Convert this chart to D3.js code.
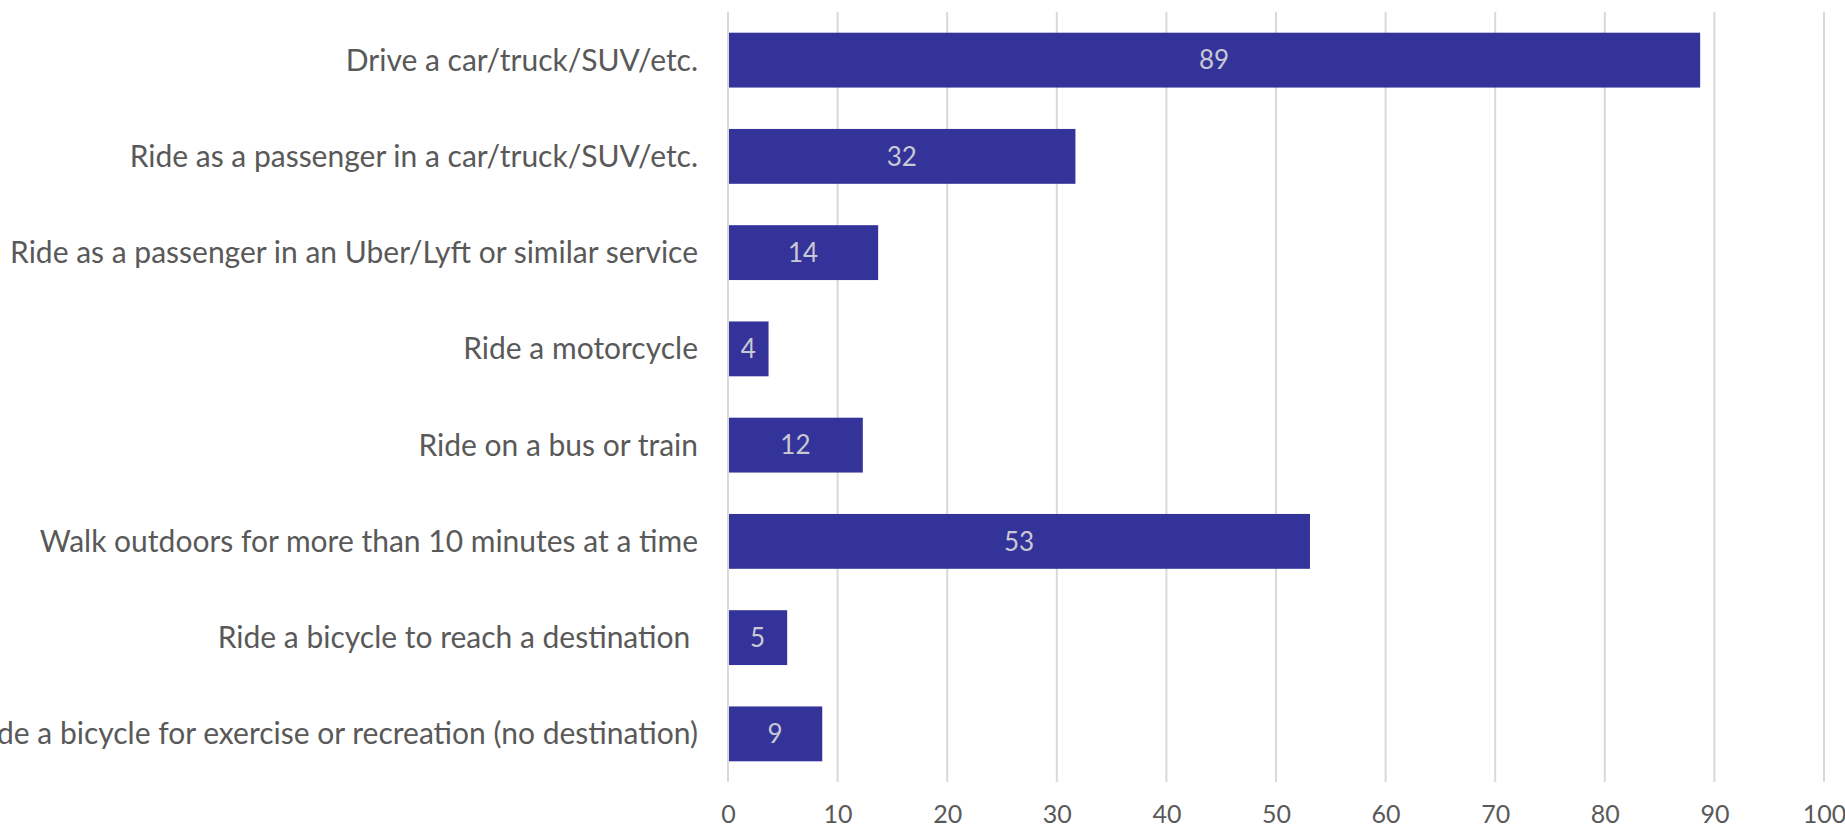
<!DOCTYPE html>
<html>
<head>
<meta charset="utf-8">
<script src="https://cdn.jsdelivr.net/npm/d3@7"></script>
<style>
  html, body { margin: 0; padding: 0; background: #ffffff; }
  svg { display: block; }
  text { font-family: Lato, "Open Sans", sans-serif; }
</style>
</head>
<body>
<svg id="chart" width="1845" height="830"></svg>
<script>
// Share of respondents by travel mode (%)
const categories = [
  "Drive a car/truck/SUV/etc.",
  "Ride as a passenger in a car/truck/SUV/etc.",
  "Ride as a passenger in an Uber/Lyft or similar service",
  "Ride a motorcycle",
  "Ride on a bus or train",
  "Walk outdoors for more than 10 minutes at a time",
  "Ride a bicycle to reach a destination ",
  "Ride a bicycle for exercise or recreation (no destination)"
];
const values = [88.7, 31.7, 13.7, 3.7, 12.3, 53.1, 5.4, 8.6];
const xTicks = [0, 10, 20, 30, 40, 50, 60, 70, 80, 90, 100];

const W = 1845, H = 830;
const margin = { top: 12, right: 21, bottom: 48, left: 728 };
const innerW = W - margin.left - margin.right;
const innerH = H - margin.top - margin.bottom;

const svg = d3.select("#chart");
const g = svg.append("g").attr("transform", `translate(${margin.left},${margin.top})`);

const x = d3.scaleLinear().domain([0, 100]).range([0, innerW]);
const y = d3.scaleBand().domain(categories).range([0, innerH]).paddingInner(0.43).paddingOuter(0.215);

// vertical gridlines
g.append("g")
  .selectAll("line")
  .data(xTicks)
  .join("line")
  .attr("x1", d => x(d)).attr("x2", d => x(d))
  .attr("y1", 0).attr("y2", innerH)
  .attr("stroke", "#d9d9d9")
  .attr("stroke-width", 2);

// x-axis tick labels
const xAxis = d3.axisBottom(x).tickValues(xTicks).tickSize(0).tickPadding(0);
const xa = g.append("g").attr("transform", `translate(0,${innerH})`).call(xAxis);
xa.select(".domain").remove();
xa.selectAll("text")
  .attr("y", 41)
  .attr("dy", 0)
  .attr("fill", "#595959")
  .style("font-size", "25px")
  .style("font-family", "Lato, sans-serif");

// category labels (trailing spaces kept)
const ya = g.append("g").call(d3.axisLeft(y).tickSize(0).tickPadding(30));
ya.select(".domain").remove();
ya.selectAll("text")
  .attr("fill", "#595959")
  .attr("dy", "0.35em")
  .style("white-space", "pre")
  .style("font-size", "30px")
  .style("font-family", "Lato, sans-serif");

// bars
g.append("g")
  .selectAll("rect")
  .data(values)
  .join("rect")
  .attr("x", x(0) + 1)
  .attr("y", (d, i) => y(categories[i]))
  .attr("width", d => x(d) - x(0) - 1)
  .attr("height", y.bandwidth())
  .attr("fill", "#333399");

// value labels centred in each bar
g.append("g")
  .selectAll("text")
  .data(values)
  .join("text")
  .attr("x", d => (x(0) + x(d)) / 2)
  .attr("y", (d, i) => y(categories[i]) + y.bandwidth() / 2)
  .attr("dy", "0.36em")
  .attr("text-anchor", "middle")
  .attr("fill", "#c9c9d3")
  .style("font-size", "26px")
  .text(d => d3.format(".0f")(d));
</script>
</body>
</html>
